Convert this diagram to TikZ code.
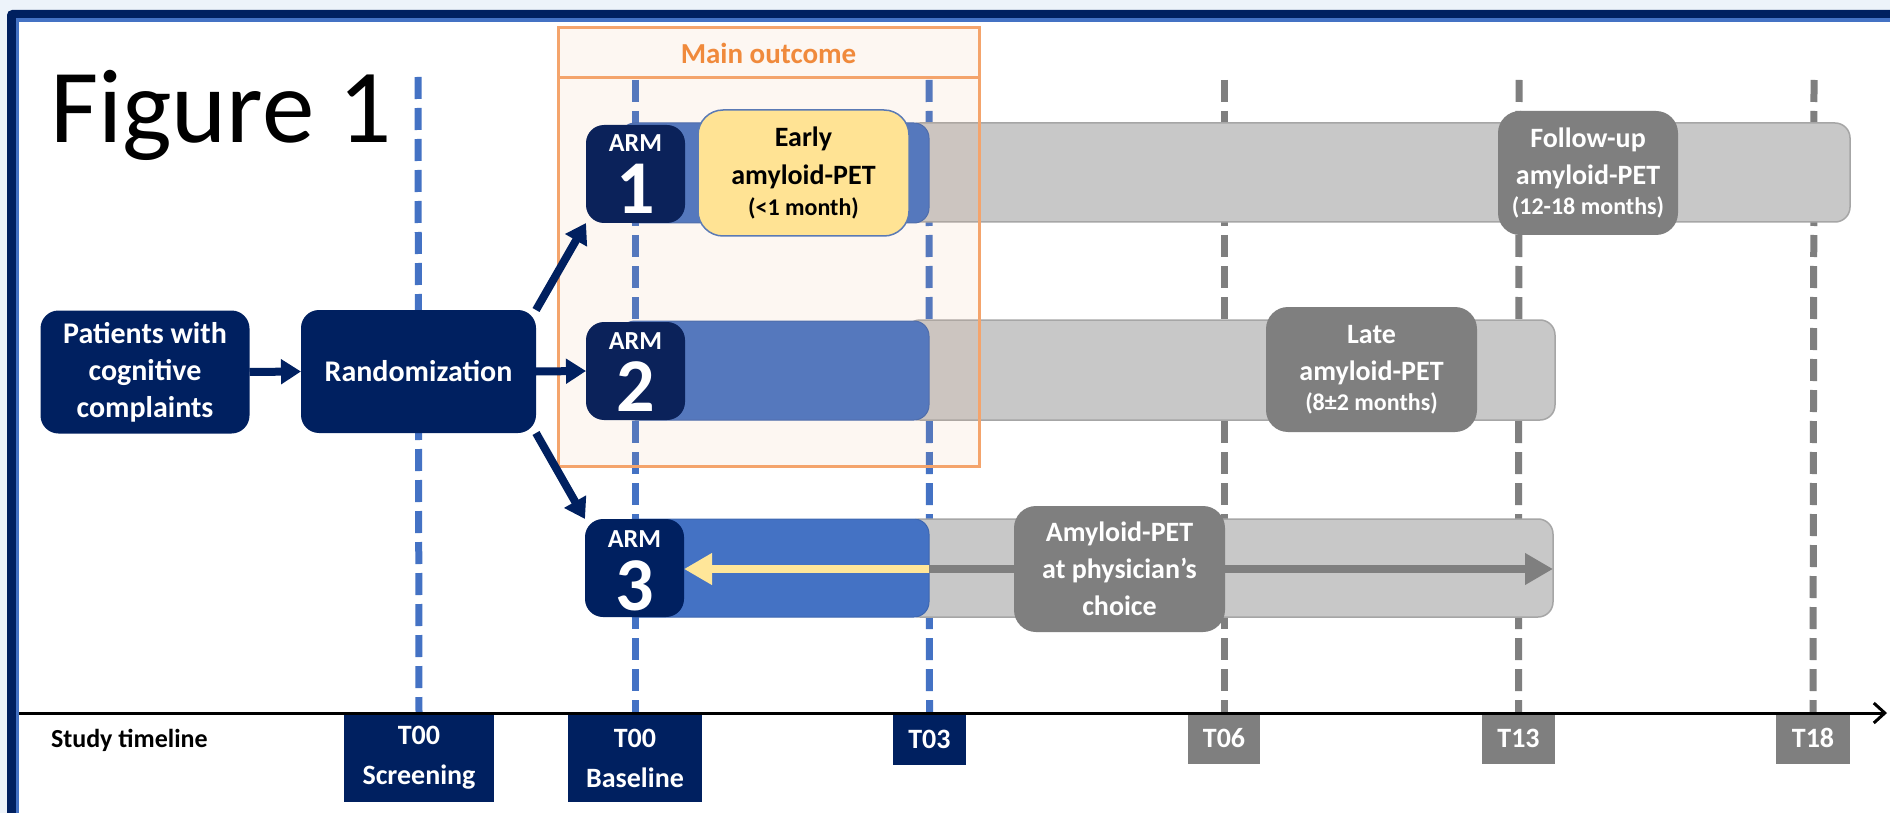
\documentclass[tikz,border=0pt]{standalone}
\usepackage{fontspec}
\setmainfont{Carlito}
\usetikzlibrary{arrows.meta}
\definecolor{navy}{HTML}{002060}
\definecolor{armnavy}{HTML}{0B225A}
\definecolor{barblue}{HTML}{4472C4}
\definecolor{barblueline}{HTML}{3D66B0}
\definecolor{barg}{HTML}{C8C8C8}
\definecolor{bargline}{HTML}{A6A6A6}
\definecolor{darkg}{HTML}{7F7F7F}
\definecolor{yel}{HTML}{FFE394}
\definecolor{yelarrow}{HTML}{FFE699}
\definecolor{yelline}{HTML}{5A7AB5}
\definecolor{orangeline}{HTML}{F4A46C}
\definecolor{orangefill}{HTML}{F4B183}
\definecolor{orangetext}{HTML}{F08A3C}
\definecolor{bgblue}{HTML}{EDF3FA}
\definecolor{frameblue}{HTML}{4472C4}
\begin{document}
\begin{tikzpicture}[x=1pt,y=-1pt,
  every node/.style={inner sep=0pt,outer sep=0pt},
  navybox/.style={fill=navy,rounded corners=18pt,text=white,align=center,
    font=\fontsize{30}{37}\selectfont\bfseries},
  armbox/.style={fill=armnavy,rounded corners=18pt,minimum width=99pt,minimum height=98pt},
  armlbl/.style={anchor=base,text=white,text height=17pt,text depth=0pt,font=\fontsize{26}{26}\selectfont\bfseries},
  armnum/.style={anchor=base,text=white,text height=48pt,text depth=0pt,font=\fontsize{76}{76}\selectfont\bfseries},
  graybar/.style={fill=barg,draw=bargline,line width=1.5pt,rounded corners=15pt},
  bluebar/.style={fill=barblue,draw=barblueline,line width=1pt,rounded corners=15pt},
  graylbl/.style={fill=darkg,rounded corners=22pt,text=white,align=center,
    minimum width=211pt,minimum height=125pt,font=\fontsize{28}{37}\selectfont\bfseries},
  tnavy/.style={fill=navy,text=white,align=center,font=\fontsize{28}{40}\selectfont\bfseries},
  tgray/.style={fill=darkg,text=white,align=center,font=\fontsize{28}{40}\selectfont\bfseries},
  bluedash/.style={draw=barblue,line width=7pt,dash pattern=on 22pt off 9pt},
  graydash/.style={draw=darkg,line width=7pt,dash pattern=on 22pt off 9pt},
  flowarrow/.style={draw=navy,line width=8pt,-{Triangle[length=20pt,width=24pt]}},
]
\useasboundingbox (0,0) rectangle (1890,813);
\clip (0,0) rectangle (1890,813);
% frame
\fill[bgblue] (0,0) rectangle (1890,813);
\fill[navy,rounded corners=5pt] (7,10) rectangle (1930,860);
\fill[frameblue] (15.5,18.5) rectangle (1930,860);
\fill[white] (19,22.5) rectangle (1930,860);

% timeline boxes
\node[tnavy,minimum width=150pt,minimum height=88pt] (tscr) at (419,758) {T00\\Screening};
\node[tnavy,minimum width=134pt,minimum height=88pt] (tbase) at (635,758) {T00\\Baseline};
\node[tnavy,minimum width=73pt,minimum height=51pt] (t03) at (929.5,739.5) {T03};
\node[tgray,minimum width=72pt,minimum height=52pt] (t06) at (1224,738) {T06};
\node[tgray,minimum width=73pt,minimum height=52pt] (t13) at (1518.5,738) {T13};
\node[tgray,minimum width=74pt,minimum height=52pt] (t18) at (1813,738) {T18};
\node[anchor=west,font=\fontsize{26}{30}\selectfont\bfseries] (stl) at (51,740) {Study timeline};

% dashed guide lines
\coordinate (d1) at (418,77);
\coordinate (d2) at (635,80);
\coordinate (d3) at (929,80);
\coordinate (d4) at (1224,80);
\coordinate (d5) at (1519,80);
\coordinate (d6) at (1814,80);
\draw[bluedash] (d1) -- (tscr.north);
\draw[bluedash] (d2) -- (tbase.north);
\draw[bluedash] (d3) -- (t03.north);
\draw[graydash] (d4) -- (t06.north);
\draw[graydash] (d5) -- (t13.north);
\draw[graydash] (d6) -- (t18.north);

% axis
\coordinate (axl) at (19,713);
\coordinate (axr) at (1887,713);
\draw[line width=3pt,-{Straight Barb[length=11pt,width=20pt]}] (axl) -- (axr);

% Figure title
\node[anchor=base west,font=\fontsize{105}{110}\selectfont] (fig) at (50,143) {Figure 1};

% left boxes
\node[navybox,minimum width=209pt,minimum height=123pt] (pat) at (145,372) {Patients with\\cognitive\\complaints};
\node[navybox,minimum width=235pt,minimum height=123pt] (rand) at (418.5,371.5) {Randomization};

% bars
\node[graybar,minimum width=945pt,minimum height=99pt] (g1) at (1377.5,172.5) {};
\node[graybar,minimum width=650pt,minimum height=100pt] (g2) at (1230,370) {};
\node[graybar,minimum width=648pt,minimum height=98pt] (g3) at (1229,568) {};
\node[bluebar,minimum width=309pt,minimum height=100pt] (b1) at (774.5,173) {};
\node[bluebar,minimum width=309pt,minimum height=99pt] (b2) at (774.5,370.5) {};
\node[bluebar,minimum width=309pt,minimum height=98pt] (b3) at (774.5,568) {};

% main outcome tint
\node[fill=orangefill,fill opacity=0.1,minimum width=421pt,minimum height=438pt] (maintint) at (768.5,247) {};

% arm boxes
\node[armbox] (arm1) at (635.5,174) {};
\node[armlbl] (arm1l) at (635.5,152) {ARM};
\node[armnum] (arm1n) at (635.5,214) {1};
\node[armbox] (arm2) at (635.5,371) {};
\node[armlbl] (arm2l) at (635.5,349) {ARM};
\node[armnum] (arm2n) at (635.5,411) {2};
\node[armbox,fill=navy] (arm3) at (634.5,568) {};
\node[armlbl] (arm3l) at (634.5,547) {ARM};
\node[armnum] (arm3n) at (634.5,610) {3};

% early PET
\node[fill=yel,draw=yelline,line width=1.5pt,rounded corners=25pt,minimum width=211pt,minimum height=126pt,
  align=center,font=\fontsize{28}{38}\selectfont\bfseries] (early) at (803.5,173)
  {Early\\amyloid-PET\\[-7pt]{\fontsize{24}{26}\selectfont (<1 month)}};

% arm 3 arrows
\coordinate (split) at (929,569);
\draw[draw=yelarrow,line width=8pt,-{Triangle[length=28pt,width=30pt]}] (split) -- (arm3.east |- split);
\draw[draw=darkg,line width=8pt,-{Triangle[length=28pt,width=30pt]}] (split) -- (g3.east |- split);

% gray labels
\node[graylbl,minimum width=180pt,minimum height=124pt] (fu) at (1588,173)
  {Follow-up\\amyloid-PET\\[-7pt]{\fontsize{24}{26}\selectfont (12-18 months)}};
\node[graylbl] (late) at (1371.5,369.5)
  {Late\\amyloid-PET\\[-7pt]{\fontsize{24}{26}\selectfont (8±2 months)}};
\node[graylbl,minimum height=126pt] (phys) at (1119.5,569)
  {Amyloid-PET\\at physician’s\\choice};

% main outcome box
\node[draw=orangeline,line width=3pt,minimum width=421pt,minimum height=438pt] (mainbox) at (768.5,247) {};
\coordinate (hl) at (558,78);
\coordinate (hr) at (979,78);
\draw[orangeline,line width=3pt] (hl) -- (hr);
\node[text=orangetext,font=\fontsize{29}{30}\selectfont\bfseries] (mo) at (768.5,53) {Main outcome};

% flow arrows
\draw[flowarrow] (pat.east) -- (rand.west);
\draw[flowarrow] (rand.east) -- (arm2.west);
\draw[flowarrow] (rand.north east) -- (arm1.south west);
\draw[flowarrow] (rand.south east) -- (arm3.north west);
\end{tikzpicture}
\end{document}
